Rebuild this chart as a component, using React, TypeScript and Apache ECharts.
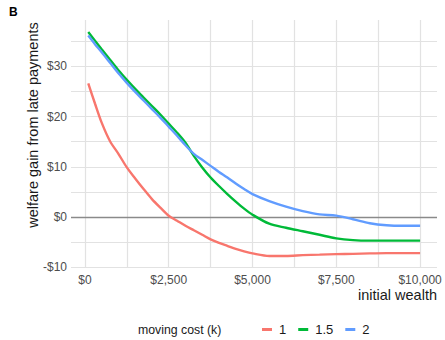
import React, { useEffect, useRef } from "react";
import * as echarts from "echarts";

// Initial wealth grid (dollars)
const wealth = [
  100, 300, 500, 750, 1000, 1250, 1500, 1750, 2000, 2250, 2500, 2750, 3000,
  3250, 3500, 3750, 4000, 4250, 4500, 4750, 5000, 5500, 6000, 6500, 7000,
  7500, 8000, 8500, 9000, 9500, 10000,
];

// Welfare gain from late payments, by moving cost k
const gainK1 = [
  26.6, 22.6, 18.8, 15.1, 12.6, 9.9, 7.7, 5.6, 3.6, 1.9, 0.3, -0.7, -1.7,
  -2.6, -3.5, -4.4, -5.1, -5.7, -6.3, -6.8, -7.2, -7.7, -7.7, -7.55, -7.45,
  -7.35, -7.3, -7.2, -7.15, -7.15, -7.15,
];
const gainK15 = [
  36.8, 35.1, 33.4, 31.3, 29.2, 27.3, 25.5, 23.8, 22.1, 20.4, 18.6, 16.8,
  14.8, 12.2, 9.9, 7.9, 6.2, 4.6, 3.1, 1.7, 0.5, -1.3, -2.1, -2.8, -3.5,
  -4.2, -4.55, -4.65, -4.65, -4.65, -4.65,
];
const gainK2 = [
  36.1, 34.4, 32.8, 30.7, 28.6, 26.7, 24.9, 23.2, 21.5, 19.8, 18.0, 16.2,
  14.3, 12.6, 11.4, 10.2, 9.0, 7.9, 6.7, 5.6, 4.6, 3.2, 2.1, 1.2, 0.55,
  0.3, -0.4, -1.2, -1.6, -1.7, -1.7,
];

const seriesNames = ["1", "1.5", "2"];
const seriesColors = ["#F8766D", "#00BA38", "#619CFF"];
const seriesValues = [gainK1, gainK15, gainK2];

const xGridValues = [0, 1250, 2500, 3750, 5000, 6250, 7500, 8750, 10000];
const xLabelValues = [0, 2500, 5000, 7500, 10000];
const yGridValues = [-10, -5, 0, 5, 10, 15, 20, 25, 30, 35];
const yLabelValues = [-10, 0, 10, 20, 30];

const FONT = "Liberation Sans, Arial, Helvetica, sans-serif";

const dollar = (v: number) => {
  const s = Math.abs(v).toLocaleString("en-US");
  return (v < 0 ? "-$" : "$") + s;
};

export default function App() {
  const ref = useRef<HTMLDivElement>(null);

  useEffect(() => {
    if (!ref.current) return;
    const chart = echarts.init(ref.current, undefined, { renderer: "svg" });

    const series: any[] = seriesNames.map((name, i) => ({
      name,
      type: "line",
      data: wealth.map((w, j) => [w, seriesValues[i][j]]),
      showSymbol: false,
      smooth: 0.3,
      lineStyle: { color: seriesColors[i], width: 2.4 },
      itemStyle: { color: seriesColors[i] },
      z: 3 + i,
    }));
    // zero reference line
    series[0].markLine = {
      silent: true,
      symbol: "none",
      label: { show: false },
      lineStyle: { color: "#8a8a8a", width: 1.3, type: "solid" },
      data: [{ yAxis: 0 }],
      z: 2,
    };

    chart.setOption({
      animation: false,
      textStyle: { fontFamily: FONT },
      grid: { left: 71, right: 8, top: 20, bottom: 72 },
      xAxis: {
        type: "value",
        min: -415,
        max: 10505,
        axisLine: { show: false },
        axisTick: { show: false, customValues: xGridValues },
        splitLine: { show: true, lineStyle: { color: "#E2E2E2", width: 1.2 } },
        axisLabel: {
          customValues: xLabelValues,
          formatter: (v: number) => dollar(v),
          color: "#4D4D4D",
          fontSize: 12,
          fontFamily: FONT,
          margin: 6,
        },
      },
      yAxis: {
        type: "value",
        min: -10.1,
        max: 39.2,
        axisLine: { show: false },
        axisTick: { show: false, customValues: yGridValues },
        splitLine: { show: true, lineStyle: { color: "#E2E2E2", width: 1.2 } },
        axisLabel: {
          customValues: yLabelValues,
          formatter: (v: number) => dollar(v),
          color: "#4D4D4D",
          fontSize: 12,
          fontFamily: FONT,
          margin: 4,
        },
      },
      legend: {
        data: seriesNames,
        left: 262,
        top: 323,
        padding: 0,
        icon: "rect",
        itemWidth: 10,
        itemHeight: 3,
        itemGap: 12,
        textStyle: {
          fontSize: 13,
          fontFamily: FONT,
          color: "#1a1a1a",
          padding: [0, 0, 0, 2],
        },
      },
      graphic: [
        {
          type: "text",
          left: 9,
          top: 6,
          style: { text: "B", font: `bold 12px ${FONT}`, fill: "#000" },
        },
        {
          type: "text",
          x: 33,
          y: 125,
          rotation: Math.PI / 2,
          style: {
            text: "welfare gain from late payments",
            font: `14.5px ${FONT}`,
            fill: "#1a1a1a",
            align: "center",
            verticalAlign: "middle",
          },
        },
        {
          type: "text",
          x: 437,
          y: 295,
          style: {
            text: "initial wealth",
            font: `14.5px ${FONT}`,
            fill: "#1a1a1a",
            align: "right",
            verticalAlign: "middle",
          },
        },
        {
          type: "text",
          x: 138,
          y: 330,
          style: {
            text: "moving cost (k)",
            font: `12.3px ${FONT}`,
            fill: "#1a1a1a",
            align: "left",
            verticalAlign: "middle",
          },
        },
      ],
      series,
    });

    return () => chart.dispose();
  }, []);

  return (
    <div
      ref={ref}
      style={{ position: "absolute", left: 0, top: 0, width: 445, height: 340 }}
    />
  );
}
